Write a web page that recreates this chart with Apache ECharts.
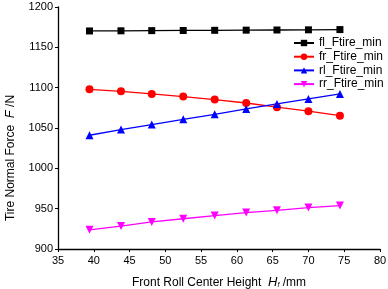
<!DOCTYPE html>
<html>
<head>
<meta charset="utf-8">
<script src="https://cdn.jsdelivr.net/npm/echarts@6/dist/echarts.min.js"></script>
<style>
  html, body { margin: 0; padding: 0; background: #fff; }
  #chart { width: 388px; height: 289px; }
</style>
</head>
<body>
<div id="chart"></div>
<script>
// front roll centre height (mm)
var heights = [39.4, 43.8, 48.1, 52.5, 56.9, 61.3, 65.6, 70.0, 74.4];
// tire normal force minimums (N)
var flMin = [1170.3, 1170.5, 1170.7, 1170.9, 1171.1, 1171.3, 1171.5, 1171.7, 1172.0];
var frMin = [1098.0, 1095.5, 1092.3, 1089.0, 1085.3, 1081.0, 1075.8, 1070.8, 1065.3];
var rlMin = [1041.0, 1048.0, 1054.2, 1060.8, 1067.0, 1073.6, 1079.8, 1086.0, 1092.2];
var rrMin = [923.8, 928.4, 933.6, 937.5, 941.4, 945.1, 948.0, 951.3, 953.8];

var names = ['fl_Ftire_min', 'fr_Ftire_min', 'rl_Ftire_min', 'rr_Ftire_min'];
var colors = ['#000000', '#ff0000', '#0000ff', '#ff00ff'];
var symbols = ['rect', 'circle', 'triangle', 'triangle'];
var allData = [flMin, frMin, rlMin, rrMin];

function pairs(ys) {
  return ys.map(function (y, i) { return [heights[i], y]; });
}

var font = 'Liberation Sans, Arial, sans-serif';

var series = allData.map(function (ys, k) {
  return {
    name: names[k],
    type: 'line',
    data: pairs(ys),
    symbol: symbols[k],
    symbolRotate: k === 3 ? 180 : 0,
    symbolSize: k === 0 ? 7 : 8,
    lineStyle: { color: colors[k], width: 1.3 },
    itemStyle: { color: colors[k] },
    animation: false
  };
});

var chart = echarts.init(document.getElementById('chart'));
chart.setOption({
  animation: false,
  color: colors,
  grid: { left: 58, right: 8, top: 7, bottom: 40, outerBoundsMode: 'none', containLabel: false },
  legend: {
    orient: 'vertical',
    left: 293,
    top: 37,
    padding: 0,
    itemWidth: 20,
    itemHeight: 8,
    itemGap: 1.7,
    textStyle: { fontFamily: font, fontSize: 12, lineHeight: 12, color: '#000', padding: [0, 0, 0, 0] },
    data: names
  },
  xAxis: {
    type: 'value',
    min: 35, max: 80, interval: 5,
    name: 'Front Roll Center Height  {i|H}{s|f} /mm',
    nameLocation: 'middle',
    nameGap: 27,
    nameTextStyle: {
      fontFamily: font, fontSize: 12, color: '#000',
      rich: {
        i: { fontFamily: font, fontSize: 13, fontStyle: 'italic', color: '#000' },
        s: { fontFamily: font, fontSize: 7, fontStyle: 'italic', color: '#000', verticalAlign: 'bottom', padding: [5, 0, 0, 0] }
      }
    },
    axisLine: { lineStyle: { color: '#000', width: 1.3 } },
    axisTick: { length: 3, lineStyle: { color: '#000' } },
    axisLabel: { fontFamily: font, fontSize: 11, color: '#000', margin: 6 },
    splitLine: { show: false }
  },
  yAxis: {
    type: 'value',
    min: 900, max: 1200, interval: 50,
    name: 'Tire Normal Force  {i|F} /N',
    nameLocation: 'middle',
    nameRotate: 90,
    nameGap: 41,
    nameTextStyle: {
      fontFamily: font, fontSize: 12, color: '#000',
      padding: [0, 60, 0, 0],
      rich: {
        i: { fontFamily: font, fontSize: 13, fontStyle: 'italic', color: '#000' }
      }
    },
    axisLine: { show: true, lineStyle: { color: '#000', width: 1.3 } },
    axisTick: { show: true, length: 3, lineStyle: { color: '#000' } },
    axisLabel: {
      fontFamily: font, fontSize: 11, color: '#000', margin: 5,
      formatter: function (v) { return String(v); }
    },
    splitLine: { show: false }
  },
  series: series
});
</script>
</body>
</html>
